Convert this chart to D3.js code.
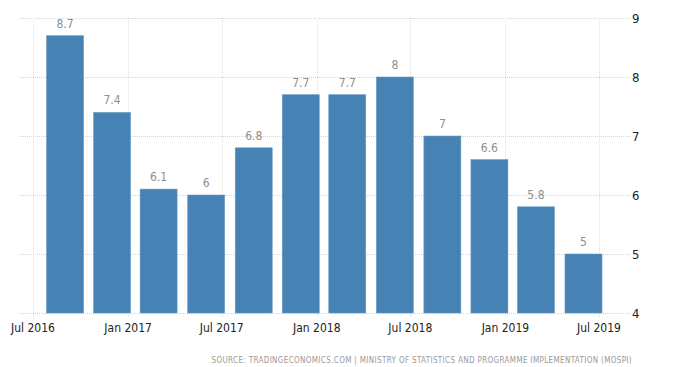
<!DOCTYPE html>
<html>
<head>
<meta charset="utf-8">
<script src="https://cdn.jsdelivr.net/npm/d3@7"></script>
<style>
  body { margin: 0; background: #fff; }
  svg { display: block; font-family: "DejaVu Sans", sans-serif; font-stretch: condensed; }
</style>
</head>
<body>
<div id="chart"></div>
<script>
// quarterly GDP growth, bars plotted at the first day of each quarter's last month
var dates = ["2016-09-01", "2016-12-01", "2017-03-01", "2017-06-01", "2017-09-01", "2017-12-01",
             "2018-03-01", "2018-06-01", "2018-09-01", "2018-12-01", "2019-03-01", "2019-06-01"];
var values = [8.7, 7.4, 6.1, 6, 6.8, 7.7, 7.7, 8, 7, 6.6, 5.8, 5];
var yTicks = [4, 5, 6, 7, 8, 9];
var xTicks = ["2016-07-01", "2017-01-01", "2017-07-01", "2018-01-01", "2018-07-01", "2019-01-01", "2019-07-01"];
var source = "SOURCE:  TRADINGECONOMICS.COM  |  MINISTRY OF STATISTICS AND PROGRAMME IMPLEMENTATION (MOSPI)";

var width = 680, height = 367;
var plotLeft = 19, plotRight = 630, plotTop = 18, plotBottom = 313;
var barW = 37;

var parse = d3.timeParse("%Y-%m-%d");
var fmt = d3.timeFormat("%b %Y");

var svg = d3.select("#chart").append("svg")
    .attr("width", width)
    .attr("height", height);

var x = d3.scaleTime()
    .domain([parse(xTicks[0]), parse(xTicks[xTicks.length - 1])])
    .range([33, 599]);

var y = d3.scaleLinear()
    .domain([4, 9])
    .range([plotBottom, plotTop]);

// horizontal grid
svg.append("g").selectAll("line")
    .data(yTicks)
    .enter().append("line")
    .attr("x1", plotLeft).attr("x2", plotRight)
    .attr("y1", d => y(d) + 0.5).attr("y2", d => y(d) + 0.5)
    .attr("stroke", "#d4d4d4")
    .attr("stroke-dasharray", "1,1");

// vertical grid
svg.append("g").selectAll("line")
    .data(xTicks)
    .enter().append("line")
    .attr("x1", d => Math.round(x(parse(d))) + 0.5).attr("x2", d => Math.round(x(parse(d))) + 0.5)
    .attr("y1", plotTop).attr("y2", plotBottom + 4)
    .attr("stroke", "#dedede")
    .attr("stroke-dasharray", "1,1");

// bars
var data = dates.map((d, i) => ({ date: parse(d), value: values[i] }));

svg.append("g").selectAll("rect")
    .data(data)
    .enter().append("rect")
    .attr("x", d => x(d.date) - barW / 2)
    .attr("width", barW)
    .attr("y", d => y(d.value))
    .attr("height", d => y(4) - y(d.value))
    .attr("fill", "#4682b4")
    .attr("stroke", "#6a9cc6")
    .attr("stroke-width", 0.6);

// value labels
svg.append("g").selectAll("text")
    .data(data)
    .enter().append("text")
    .attr("x", d => x(d.date))
    .attr("y", d => y(d.value) - 8)
    .attr("text-anchor", "middle")
    .attr("font-size", 12)
    .attr("fill", "#8f8f8f")
    .text(d => d.value);

// x axis labels
svg.append("g").selectAll("text")
    .data(xTicks)
    .enter().append("text")
    .attr("x", d => x(parse(d)))
    .attr("y", 332)
    .attr("text-anchor", "middle")
    .attr("font-size", 12)
    .attr("fill", "#222")
    .text(d => fmt(parse(d)));

// y axis labels (right side)
svg.append("g").selectAll("text")
    .data(yTicks)
    .enter().append("text")
    .attr("x", 632)
    .attr("y", d => y(d) + 5)
    .attr("font-size", 13)
    .attr("fill", "#222")
    .text(d => d);

// source line
svg.append("text")
    .attr("x", 632)
    .attr("y", 363)
    .attr("text-anchor", "end")
    .attr("font-size", 8)
    .attr("letter-spacing", 0.35)
    .attr("fill", "#999")
    .text(source);
</script>
</body>
</html>
